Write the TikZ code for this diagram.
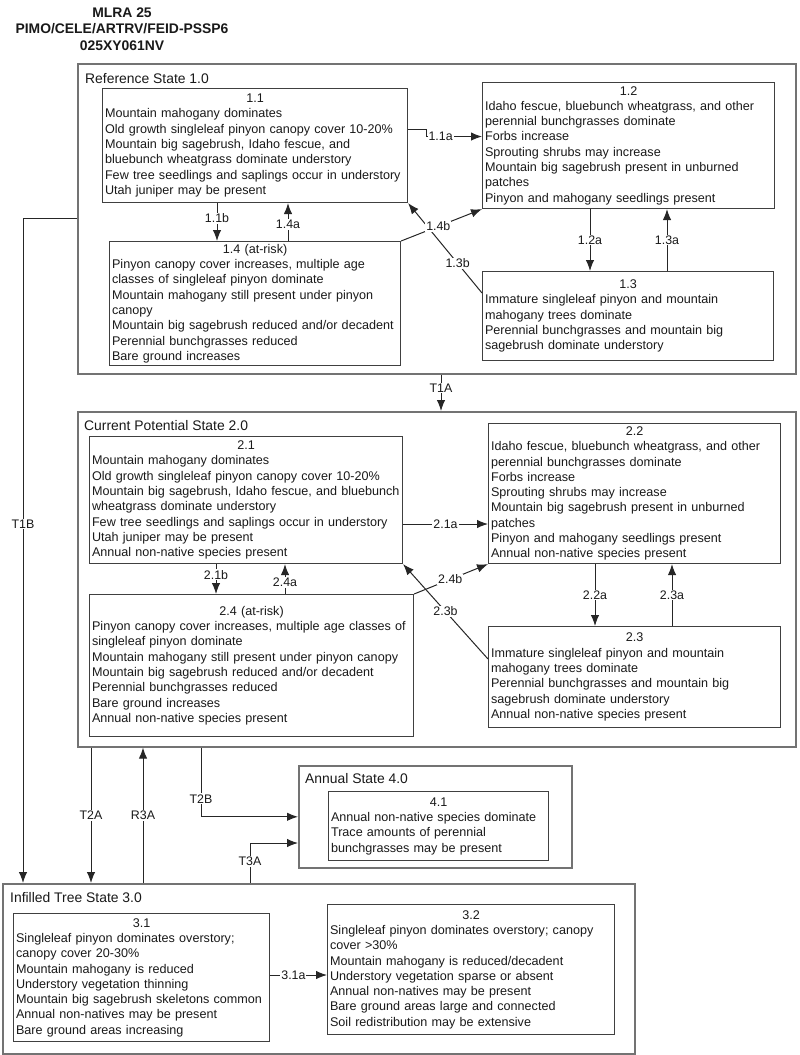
\documentclass[tikz,border=0pt]{standalone}
\usepackage{fontspec}
\setmainfont{Liberation Sans}
\usetikzlibrary{arrows.meta}

\newcommand{\phtitle}[1]{\hfill#1\hfill\null\\}

\tikzset{
  state/.style={draw=black!55, line width=1.6pt, anchor=north west, inner sep=0pt},
  stitle/.style={anchor=north west, inner sep=0pt, text=black!90, font=\fontsize{13.9}{16}\selectfont},
  phase/.style={draw=black!75, line width=1.1pt, anchor=north west, inner xsep=2.5pt, inner ysep=2pt,
    align=left, text=black!90, font=\fontsize{12.6}{15.3}\selectfont},
  lbl/.style={fill=white, inner sep=1pt, text=black!90, font=\fontsize{12.4}{12.4}\selectfont},
  arr/.style={-{Latex[length=11pt,width=8.5pt]}, line width=1pt, draw=black!85},
}

\begin{document}
\begin{tikzpicture}[x=1pt, y=-1pt]
	\useasboundingbox (0,0) rectangle (800,1055);
	% heading
	\node[align=center, font=\bfseries\fontsize{13.9}{16.5}\selectfont, text=black!90] (head) at (122,29)
		{MLRA 25\\PIMO/CELE/ARTRV/FEID-PSSP6\\025XY061NV};

	% states
	\node[state, minimum width=718, minimum height=310] (s1) at (77,63) {};
	\node[state, minimum width=718, minimum height=335] (s2) at (77,411) {};
	\node[state, minimum width=632, minimum height=170] (s3) at (2,883) {};
	\node[state, minimum width=273, minimum height=102] (s4) at (298,765) {};
	\node[stitle] (t1) at ([shift={(8,10)}]s1.north west) {Reference State 1.0};
	\node[stitle] (t2) at ([shift={(7,9)}]s2.north west) {Current Potential State 2.0};
	\node[stitle] (t3) at ([shift={(8,9)}]s3.north west) {Infilled Tree State 3.0};
	\node[stitle] (t4) at ([shift={(7,8)}]s4.north west) {Annual State 4.0};

	% reference state phases
	\node[phase, text width=300, minimum height=114] (p11) at (102,88) {\phtitle{1.1}
		Mountain mahogany dominates\\
		Old growth singleleaf pinyon canopy cover 10-20\%\\
		Mountain big sagebrush, Idaho fescue, and\\
		bluebunch wheatgrass dominate understory\\
		Few tree seedlings and saplings occur in understory\\
		Utah juniper may be present};
	\node[phase, text width=287, minimum height=126] (p12) at (482,82) {\phtitle{1.2}
		Idaho fescue, bluebunch wheatgrass, and other\\
		perennial bunchgrasses dominate\\
		Forbs increase\\
		Sprouting shrubs may increase\\
		Mountain big sagebrush present in unburned\\
		patches\\
		Pinyon and mahogany seedlings present};
	\node[phase, text width=286, minimum height=89] (p13) at (482,271) {\phtitle{1.3}
		Immature singleleaf pinyon and mountain\\
		mahogany trees dominate\\
		Perennial bunchgrasses and mountain big\\
		sagebrush dominate understory};
	\node[phase, text width=286, minimum height=124] (p14) at (109,241) {\phtitle{1.4 (at-risk)}
		Pinyon canopy cover increases, multiple age\\
		classes of singleleaf pinyon dominate\\
		Mountain mahogany still present under pinyon\\
		canopy\\
		Mountain big sagebrush reduced and/or decadent\\
		Perennial bunchgrasses reduced\\
		Bare ground increases};

	% current potential state phases
	\node[phase, text width=308, minimum height=127] (p21) at (89,436) {\phtitle{2.1}
		Mountain mahogany dominates\\
		Old growth singleleaf pinyon canopy cover 10-20\%\\
		Mountain big sagebrush, Idaho fescue, and bluebunch\\
		wheatgrass dominate understory\\
		Few tree seedlings and saplings occur in understory\\
		Utah juniper may be present\\
		Annual non-native species present};
	\node[phase, text width=287, minimum height=140] (p22) at (488,423) {\phtitle{2.2}
		Idaho fescue, bluebunch wheatgrass, and other\\
		perennial bunchgrasses dominate\\
		Forbs increase\\
		Sprouting shrubs may increase\\
		Mountain big sagebrush present in unburned\\
		patches\\
		Pinyon and mahogany seedlings present\\
		Annual non-native species present};
	\node[phase, text width=287, minimum height=101] (p23) at (488,626) {\phtitle{2.3}
		Immature singleleaf pinyon and mountain\\
		mahogany trees dominate\\
		Perennial bunchgrasses and mountain big\\
		sagebrush dominate understory\\
		Annual non-native species present};
	\node[phase, text width=319, minimum height=142] (p24) at (89,594) {\phtitle{2.4 (at-risk)}
		Pinyon canopy cover increases, multiple age classes of\\
		singleleaf pinyon dominate\\
		Mountain mahogany still present under pinyon canopy\\
		Mountain big sagebrush reduced and/or decadent\\
		Perennial bunchgrasses reduced\\
		Bare ground increases\\
		Annual non-native species present};

	% infilled tree and annual state phases
	\node[phase, text width=251, minimum height=128] (p31) at (13,913) {\phtitle{3.1}
		Singleleaf pinyon dominates overstory;\\
		canopy cover 20-30\%\\
		Mountain mahogany is reduced\\
		Understory vegetation thinning\\
		Mountain big sagebrush skeletons common\\
		Annual non-natives may be present\\
		Bare ground areas increasing};
	\node[phase, text width=282, minimum height=130] (p32) at (327,904) {\phtitle{3.2}
		Singleleaf pinyon dominates overstory; canopy\\
		cover >30\%\\
		Mountain mahogany is reduced/decadent\\
		Understory vegetation sparse or absent\\
		Annual non-natives may be present\\
		Bare ground areas large and connected\\
		Soil redistribution may be extensive};
	\node[phase, text width=215, minimum height=69] (p41) at (328,791) {\phtitle{4.1}
		Annual non-native species dominate\\
		Trace amounts of perennial\\
		bunchgrasses may be present};

	% pathways within states
	\draw[arr] ([yshift=16pt]p11.east) -- ++(18,0) |- node[lbl, pos=.63] {1.1a} ([yshift=9pt]p12.west);
	\draw[arr] (p11.south -| 217,0) -- node[lbl, pos=.4] {1.1b} (p14.north -| 217,0);
	\draw[arr] (p14.north -| 288,0) -- node[lbl, pos=.44] {1.4a} (p11.south -| 288,0);
	\draw[arr] (p12.south -| 590,0) -- node[lbl] {1.2a} (p13.north -| 590,0);
	\draw[arr] (p13.north -| 667,0) -- node[lbl] {1.3a} (p12.south -| 667,0);
	\draw[arr] (p13.west |- 0,293) -- node[lbl, pos=.33] {1.3b} (p11.south east);
	\draw[arr] (p14.north east) -- node[lbl, pos=.46] {1.4b} (p12.south west);

	\draw[arr] (p21.east |- 0,524) -- node[lbl] {2.1a} (p22.west |- 0,524);
	\draw[arr] (p21.south -| 216,0) -- node[lbl, pos=.35] {2.1b} (p24.north -| 216,0);
	\draw[arr] (p24.north -| 285,0) -- node[lbl, pos=.38] {2.4a} (p21.south -| 285,0);
	\draw[arr] (p22.south -| 595,0) -- node[lbl] {2.2a} (p23.north -| 595,0);
	\draw[arr] (p23.north -| 672,0) -- node[lbl] {2.3a} (p22.south -| 672,0);
	\draw[arr] (p23.west |- 0,659) -- node[lbl, pos=.5] {2.3b} (p21.south east);
	\draw[arr] (p24.north east) -- node[lbl, pos=.49] {2.4b} (p22.south west);

	\draw[arr] (p31.east |- 0,975) -- node[lbl, pos=.41] {3.1a} (p32.west |- 0,975);

	% transitions between states
	\draw[arr] (s1.south -| 441,0) -- node[lbl, pos=.37] {T1A} (s2.north -| 441,0);
	\draw[arr] (s1.west |- 0,218) -| node[lbl, pos=.73] {T1B} (s3.north -| 23,0);
	\draw[arr] (s2.south -| 91,0) -- node[lbl] {T2A} (s3.north -| 91,0);
	\draw[arr] (s3.north -| 143,0) -- node[lbl] {R3A} (s2.south -| 143,0);
	\draw[arr] (s2.south -| 201,0) |- node[lbl, pos=.37] {T2B} (s4.west);
	\draw[arr] (s3.north -| 250,0) |- node[lbl, pos=.27] {T3A} (s4.west |- 0,843);
\end{tikzpicture}
\end{document}
